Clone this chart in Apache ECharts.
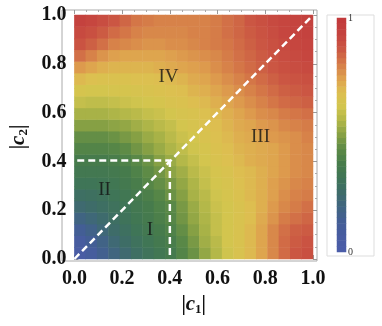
<!DOCTYPE html>
<html><head><meta charset="utf-8">
<script src="https://cdn.jsdelivr.net/npm/echarts@6/dist/echarts.min.js"></script>
<style>html,body{margin:0;padding:0;background:#fff}#c{width:382px;height:326px}</style>
</head><body><div id="c"></div>
<script>
// grid steps of |c1| (columns) and |c2| (rows)
const c1Steps = [0,0.05,0.1,0.15,0.2,0.25,0.3,0.35,0.4,0.45,0.5,0.55,0.6,0.65,0.7,0.75,0.8,0.85,0.9,0.95,1];
const c2Steps = [0,0.05,0.1,0.15,0.2,0.25,0.3,0.35,0.4,0.45,0.5,0.55,0.6,0.65,0.7,0.75,0.8,0.85,0.9,0.95,1];
// values; row j = c2Steps[j] (bottom to top), column i = c1Steps[i]
const zRows = [
 [0.03,0.08,0.14,0.19,0.23,0.27,0.30,0.33,0.36,0.41,0.46,0.52,0.57,0.62,0.66,0.70,0.74,0.79,0.84,0.88,0.90],
 [0.07,0.12,0.17,0.22,0.26,0.29,0.32,0.35,0.38,0.43,0.48,0.54,0.58,0.63,0.66,0.70,0.74,0.79,0.84,0.87,0.89],
 [0.12,0.16,0.21,0.25,0.28,0.31,0.34,0.37,0.40,0.45,0.50,0.55,0.60,0.63,0.66,0.70,0.74,0.79,0.83,0.86,0.87],
 [0.18,0.21,0.24,0.27,0.30,0.33,0.36,0.39,0.42,0.47,0.52,0.56,0.60,0.63,0.66,0.69,0.73,0.77,0.81,0.83,0.85],
 [0.23,0.25,0.27,0.29,0.31,0.34,0.37,0.40,0.43,0.48,0.53,0.57,0.61,0.63,0.66,0.69,0.72,0.76,0.79,0.81,0.83],
 [0.27,0.28,0.29,0.31,0.33,0.36,0.39,0.42,0.46,0.50,0.55,0.58,0.62,0.64,0.67,0.70,0.72,0.75,0.78,0.80,0.81],
 [0.31,0.31,0.32,0.33,0.35,0.38,0.42,0.45,0.48,0.52,0.56,0.60,0.63,0.65,0.68,0.70,0.72,0.75,0.77,0.79,0.80],
 [0.34,0.34,0.34,0.35,0.37,0.40,0.44,0.47,0.51,0.54,0.58,0.61,0.64,0.66,0.69,0.70,0.72,0.74,0.76,0.78,0.79],
 [0.37,0.37,0.37,0.38,0.40,0.43,0.46,0.50,0.53,0.57,0.60,0.63,0.66,0.68,0.70,0.72,0.73,0.74,0.76,0.78,0.79],
 [0.41,0.41,0.41,0.42,0.44,0.47,0.50,0.53,0.56,0.59,0.62,0.64,0.67,0.69,0.71,0.72,0.73,0.74,0.76,0.78,0.79],
 [0.45,0.45,0.45,0.46,0.48,0.50,0.53,0.55,0.58,0.61,0.63,0.66,0.68,0.70,0.72,0.73,0.74,0.76,0.77,0.78,0.80],
 [0.50,0.50,0.50,0.51,0.52,0.54,0.56,0.58,0.60,0.63,0.65,0.67,0.69,0.71,0.73,0.74,0.76,0.77,0.79,0.80,0.81],
 [0.55,0.55,0.55,0.56,0.57,0.58,0.60,0.61,0.63,0.65,0.66,0.68,0.70,0.72,0.74,0.76,0.78,0.79,0.81,0.82,0.83],
 [0.60,0.59,0.59,0.60,0.61,0.62,0.63,0.64,0.66,0.67,0.69,0.70,0.72,0.74,0.76,0.78,0.80,0.82,0.84,0.85,0.86],
 [0.64,0.63,0.63,0.64,0.64,0.65,0.66,0.67,0.68,0.69,0.71,0.72,0.74,0.76,0.78,0.80,0.82,0.84,0.86,0.87,0.88],
 [0.70,0.68,0.67,0.67,0.67,0.68,0.68,0.69,0.70,0.71,0.73,0.74,0.76,0.78,0.80,0.82,0.84,0.86,0.88,0.89,0.90],
 [0.76,0.74,0.72,0.71,0.71,0.71,0.71,0.72,0.73,0.74,0.75,0.76,0.78,0.80,0.82,0.84,0.86,0.88,0.90,0.91,0.92],
 [0.83,0.80,0.77,0.75,0.74,0.74,0.74,0.74,0.75,0.76,0.77,0.78,0.79,0.81,0.83,0.85,0.87,0.89,0.91,0.92,0.93],
 [0.89,0.86,0.83,0.80,0.79,0.78,0.77,0.77,0.78,0.78,0.79,0.80,0.81,0.82,0.84,0.86,0.88,0.90,0.92,0.93,0.94],
 [0.92,0.90,0.87,0.84,0.82,0.80,0.79,0.79,0.79,0.79,0.80,0.80,0.81,0.83,0.85,0.87,0.89,0.91,0.93,0.94,0.95],
 [0.95,0.93,0.91,0.88,0.85,0.82,0.81,0.80,0.80,0.80,0.80,0.80,0.81,0.83,0.85,0.88,0.90,0.92,0.93,0.94,0.95]
];
const tickLabels = ['0.0','0.2','0.4','0.6','0.8','1.0'];
const barLabels = ['0','1'];
// colour-bar levels (legend swatches), bottom to top
const barLevels = [0,0.025,0.05,0.075,0.1,0.125,0.15,0.175,0.2,0.225,0.25,0.275,0.3,0.325,0.35,0.375,0.4,0.425,0.45,0.475,0.5,0.525,0.55,0.575,0.6,0.625,0.65,0.675,0.7,0.725,0.75,0.775,0.8,0.825,0.85,0.875,0.9,0.925,0.95,0.975,1];
const diagonalLine = [[0,0],[1,1]];
const horizontalLine = [[0.012,0.404],[0.4,0.404]];
const verticalLine = [[0.4,0.016],[0.4,0.404]];
const regionNames = ['I','II','III','IV'];
const regionPos = [[0.317,0.119],[0.126,0.283],[0.78,0.5],[0.394,0.746]];
const colorStops = ['#4a5ca8','#475ca0','#435e94','#406580','#3e6c69','#3f7556','#477c4b','#5c8a46','#86a044','#b0b648','#d2c54e','#ddbf50','#dea04e','#d57a48','#cb5843','#c5443f','#c23a3b'];

const heatData = [];
for (let j = 0; j < c2Steps.length; j++) for (let i = 0; i < c1Steps.length; i++) heatData.push([i, j, zRows[j][i]]);
const barData = barLevels.map((v, k) => [0, k, v]);

const serif = '"Liberation Serif","Times New Roman",serif';
const tick = {show:true, inside:true, length:4, lineStyle:{color:'#999', width:1}};
const minor = {show:true, splitNumber:4, length:2, lineStyle:{color:'#aaa', width:1}};
const lab = {show:true, fontFamily:serif, fontWeight:'bold', fontSize:20, color:'#111',
  formatter: v => tickLabels[Math.round(v/0.2)]};
const nameRich = {
  b:{fontFamily:serif, fontWeight:'bold', fontSize:20, color:'#111', lineHeight:24},
  c:{fontFamily:serif, fontWeight:'bold', fontStyle:'italic', fontSize:21, color:'#111', lineHeight:24},
  s:{fontFamily:serif, fontWeight:'bold', fontSize:13, color:'#111', lineHeight:13, verticalAlign:'bottom'}
};
const hidden = (g) => ({type:'value', gridIndex:g, show:false, min:0, max:1});

const option = {
  animation:false,
  backgroundColor:'#fff',
  grid:[
    {left:67, top:15, width:246, height:244},
    {left:62, top:10, width:255, height:251, show:true, borderColor:'#aaa', borderWidth:1, backgroundColor:'transparent'},
    {left:327, top:15, width:47, height:241, show:true, borderColor:'#ddd', borderWidth:1, backgroundColor:'transparent'},
    {left:337, top:18, width:9, height:234}
  ],
  xAxis:[
    {type:'category', gridIndex:0, data:c1Steps.map(String), show:false},
    {type:'value', gridIndex:0, min:0, max:1, interval:0.2, position:'bottom', offset:2,
      axisLine:{show:false}, axisTick:tick, minorTick:minor, splitLine:{show:false},
      axisLabel:Object.assign({margin:8}, lab),
      name:'{b||}{c|c}{s|1}{b||}', nameLocation:'middle', nameGap:27, nameTextStyle:{rich:nameRich}},
    {type:'value', gridIndex:0, min:0, max:1, interval:0.2, position:'top', offset:5,
      axisLine:{show:false}, axisTick:tick, minorTick:minor, splitLine:{show:false}, axisLabel:{show:false}},
    hidden(1), hidden(2),
    {type:'category', gridIndex:3, data:['c'], show:false}
  ],
  yAxis:[
    {type:'category', gridIndex:0, data:c2Steps.map(String), show:false},
    {type:'value', gridIndex:0, min:0, max:1, interval:0.2, position:'left', offset:5,
      axisLine:{show:false}, axisTick:tick, minorTick:minor, splitLine:{show:false},
      axisLabel:Object.assign({margin:3}, lab),
      name:'{b||}{c|c}{s|2}{b||}', nameLocation:'middle', nameGap:31, nameRotate:90, nameTextStyle:{rich:nameRich}},
    {type:'value', gridIndex:0, min:0, max:1, interval:0.2, position:'right', offset:4,
      axisLine:{show:false}, axisTick:tick, minorTick:minor, splitLine:{show:false}, axisLabel:{show:false}},
    hidden(1), hidden(2),
    {type:'category', gridIndex:3, data:barLevels.map(String), show:false},
    {type:'value', gridIndex:3, min:0, max:1, interval:1, position:'right',
      axisLine:{show:false}, axisTick:{show:false}, splitLine:{show:false},
      axisLabel:{show:true, margin:2, fontFamily:serif, fontSize:10, color:'#333', formatter:v => barLabels[Math.round(v)]}}
  ],
  visualMap:{
    type:'continuous', min:0, max:1, seriesIndex:[0,5], show:false,
    inRange:{color:colorStops}
  },
  series:[
    {type:'heatmap', xAxisIndex:0, yAxisIndex:0, data:heatData, emphasis:{disabled:true}, progressive:0},
    {type:'line', xAxisIndex:1, yAxisIndex:1, data:diagonalLine, symbol:'none', z:5, silent:true,
      lineStyle:{color:'#fff', width:2.5, type:[7,4]}},
    {type:'line', xAxisIndex:1, yAxisIndex:1, data:horizontalLine, symbol:'none', z:5, silent:true,
      lineStyle:{color:'#fff', width:2.5, type:[7,4]}},
    {type:'line', xAxisIndex:1, yAxisIndex:1, data:verticalLine, symbol:'none', z:5, silent:true,
      lineStyle:{color:'#fff', width:2.5, type:[7,4]}},
    {type:'scatter', xAxisIndex:1, yAxisIndex:1, symbolSize:1, itemStyle:{color:'transparent'}, z:6, silent:true,
      data:regionPos.map((p,k) => ({value:p, name:regionNames[k]})),
      label:{show:true, position:'inside', formatter:p => p.name, fontFamily:serif, fontSize:19, color:'#111'}},
    {type:'heatmap', xAxisIndex:5, yAxisIndex:5, data:barData, emphasis:{disabled:true}, progressive:0}
  ]
};
const chart = echarts.init(document.getElementById('c'), null, {renderer:'canvas'});
chart.setOption(option);
</script></body></html>
